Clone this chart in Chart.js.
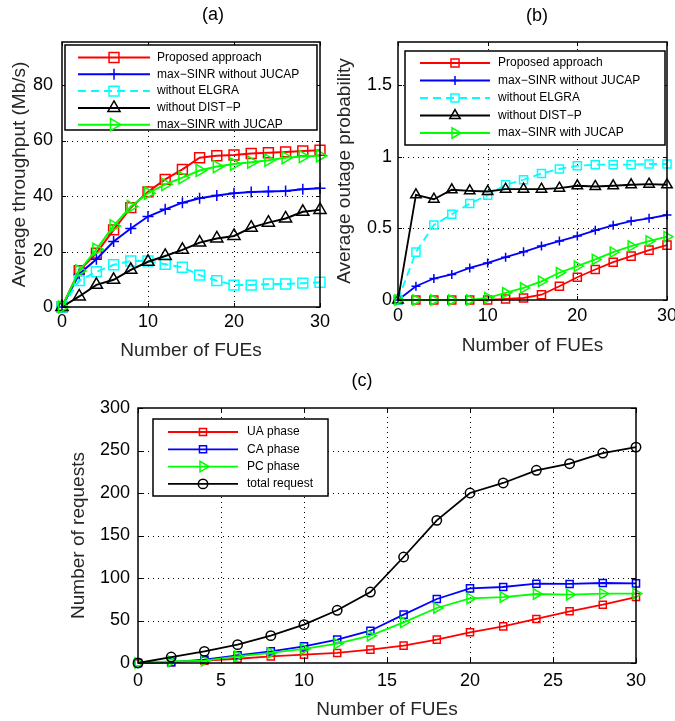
<!DOCTYPE html>
<html>
<head>
<meta charset="utf-8">
<script src="https://cdn.jsdelivr.net/npm/chart.js@4.4.0/dist/chart.umd.min.js"></script>
<style>
	body { margin: 0; background: #fff; }
	#wrap { position: relative; width: 675px; height: 721px; overflow: hidden; }
	#wrap canvas { position: absolute; }
</style>
</head>
<body>
<div id="wrap">
	<canvas id="chartA" width="330" height="365" style="left:0px;top:0px"></canvas>
	<canvas id="chartB" width="345" height="365" style="left:330px;top:0px"></canvas>
	<canvas id="chartC" width="675" height="361" style="left:0px;top:360px"></canvas>
</div>
<script>
// x values: number of FUEs
var fues = [0, 2, 4, 6, 8, 10, 12, 14, 16, 18, 20, 22, 24, 26, 28, 30];

// (a) average throughput (Mb/s)
var thrProposed  = [0, 13.1, 19.4, 27.8, 35.8, 41.5, 46.0, 49.6, 53.8, 54.5, 54.8, 55.3, 55.6, 55.9, 56.2, 56.5];
var thrMaxNoJ    = [0, 11.9, 17.2, 23.6, 28.3, 32.6, 35.2, 37.6, 39.2, 40.2, 41.0, 41.4, 41.6, 41.8, 42.4, 42.8];
var thrNoElgra   = [0, 9.5, 12.7, 15.2, 16.6, 16.6, 15.4, 14.3, 11.5, 9.5, 7.9, 7.9, 8.3, 8.3, 8.6, 8.9];
var thrNoDist    = [0, 3.8, 8.0, 9.8, 13.4, 16.3, 18.4, 20.6, 23.2, 24.7, 25.6, 28.6, 30.4, 31.9, 34.3, 35.0];
var thrMaxJ      = [0, 13.0, 20.8, 29.2, 36.2, 41.0, 44.2, 46.6, 49.2, 50.6, 51.5, 52.2, 52.9, 53.8, 54.2, 54.5];

// (b) average outage probability
var outProposed  = [0, 0, 0, 0, 0, 0, 0.007, 0.014, 0.037, 0.096, 0.159, 0.213, 0.264, 0.306, 0.348, 0.383];
var outMaxNoJ    = [0, 0.096, 0.15, 0.178, 0.224, 0.259, 0.299, 0.336, 0.376, 0.411, 0.446, 0.486, 0.521, 0.551, 0.57, 0.593];
var outNoElgra   = [0, 0.334, 0.523, 0.598, 0.673, 0.731, 0.804, 0.839, 0.883, 0.914, 0.937, 0.944, 0.944, 0.944, 0.949, 0.949];
var outNoDist    = [0, 0.734, 0.703, 0.769, 0.762, 0.757, 0.773, 0.773, 0.773, 0.78, 0.797, 0.792, 0.797, 0.804, 0.808, 0.804];
var outMaxJ      = [0, 0, 0, 0, 0, 0.015, 0.05, 0.084, 0.13, 0.19, 0.236, 0.283, 0.334, 0.376, 0.411, 0.442];

// (c) number of requests
var reqUA    = [0, 1, 2.7, 5, 7.8, 9.8, 11.8, 15.7, 20.4, 27.5, 36.1, 43.1, 51.8, 60.8, 68.6, 77.6];
var reqCA    = [0, 1, 3.9, 9, 13.7, 19.6, 27.5, 38, 56.9, 75.3, 87.8, 89.4, 93.3, 93, 94.1, 93.7];
var reqPC    = [0, 2, 2.7, 7.8, 11.8, 16.5, 22.7, 32.2, 47.8, 64.7, 76, 77.6, 81.2, 80.4, 81.6, 81.6];
var reqTotal = [0, 7, 13.7, 21.6, 32.2, 45.1, 62, 83.5, 124.7, 167.8, 200, 211.8, 226.7, 234.5, 247, 254];

var FONT = "'Liberation Sans', Arial, Helvetica, sans-serif";

function series(label, values, color, style, r, lw, extra){
	var pts = [];
	for (var i = 0; i < fues.length; i++) pts.push({x: fues[i], y: values[i]});
	var ds = {
		label: label, data: pts,
		borderColor: color, borderWidth: lw,
		pointStyle: style, pointRadius: r, pointHoverRadius: r,
		pointBorderColor: color, pointBackgroundColor: 'rgba(0,0,0,0)',
		pointBorderWidth: 1.5, pointRotation: 0,
		tension: 0, fill: false, clip: false
	};
	for (var k in extra) ds[k] = extra[k];
	return ds;
}

// later datasets drawn on top, like matlab
function stackOrder(list){
	list.forEach(function(d, i){ d.order = list.length - i; });
	return list;
}

function drawMarker(ctx, style, r, rot, x, y){
	ctx.beginPath();
	if (style === 'rect') {
		var s = r * Math.SQRT1_2;
		ctx.rect(x - s, y - s, 2 * s, 2 * s);
	} else if (style === 'cross') {
		ctx.moveTo(x - r, y); ctx.lineTo(x + r, y);
		ctx.moveTo(x, y - r); ctx.lineTo(x, y + r);
	} else if (style === 'circle') {
		ctx.arc(x, y, r, 0, Math.PI * 2);
	} else if (style === 'triangle') {
		var a = (rot || 0) * Math.PI / 180;
		for (var k = 0; k < 3; k++) {
			var px = x + Math.sin(a) * r, py = y - Math.cos(a) * r;
			if (k === 0) ctx.moveTo(px, py); else ctx.lineTo(px, py);
			a += 2 * Math.PI / 3;
		}
		ctx.closePath();
	}
	ctx.stroke();
}

// dotted grid, box, inward ticks, legend and panel label
var framePlugin = {
	id: 'frame',
	beforeDatasetsDraw: function(chart){
		var ctx = chart.ctx, a = chart.chartArea;
		var xs = chart.scales.x, ys = chart.scales.y;
		ctx.save();
		ctx.strokeStyle = '#000';
		ctx.lineWidth = 1;
		ctx.setLineDash([1, 4]);
		ctx.beginPath();
		xs.ticks.forEach(function(t){
			var p = Math.round(xs.getPixelForValue(t.value)) + 0.5;
			if (p < a.left + 2 || p > a.right - 2) return;
			ctx.moveTo(p, a.bottom); ctx.lineTo(p, a.top);
		});
		ys.ticks.forEach(function(t){
			var p = Math.round(ys.getPixelForValue(t.value)) + 0.5;
			if (p < a.top + 2 || p > a.bottom - 2) return;
			ctx.moveTo(a.left, p); ctx.lineTo(a.right, p);
		});
		ctx.stroke();
		ctx.restore();
	},
	afterDraw: function(chart, args, opts){
		var ctx = chart.ctx, a = chart.chartArea;
		var xs = chart.scales.x, ys = chart.scales.y;
		var tl = opts.tick;
		ctx.save();
		ctx.strokeStyle = '#000';
		ctx.lineWidth = 1;
		ctx.beginPath();
		xs.ticks.forEach(function(t){
			var p = Math.round(xs.getPixelForValue(t.value)) + 0.5;
			ctx.moveTo(p, a.bottom); ctx.lineTo(p, a.bottom - tl);
			ctx.moveTo(p, a.top); ctx.lineTo(p, a.top + tl);
		});
		ys.ticks.forEach(function(t){
			var p = Math.round(ys.getPixelForValue(t.value)) + 0.5;
			ctx.moveTo(a.left, p); ctx.lineTo(a.left + tl, p);
			ctx.moveTo(a.right, p); ctx.lineTo(a.right - tl, p);
		});
		ctx.stroke();
		ctx.lineWidth = 1.5;
		ctx.strokeRect(a.left, a.top, a.right - a.left, a.bottom - a.top);

		var lg = opts.legend;
		ctx.fillStyle = '#fff';
		ctx.fillRect(lg.x, lg.y, lg.w, lg.h);
		ctx.lineWidth = 1.5;
		ctx.strokeStyle = '#000';
		ctx.strokeRect(lg.x, lg.y, lg.w, lg.h);
		ctx.font = '12px ' + FONT;
		ctx.textBaseline = 'middle';
		ctx.textAlign = 'left';
		chart.data.datasets.forEach(function(ds, i){
			var y = lg.y + lg.first + i * lg.step;
			ctx.strokeStyle = ds.borderColor;
			ctx.lineWidth = ds.borderWidth;
			ctx.setLineDash(ds.borderDash || []);
			ctx.beginPath();
			ctx.moveTo(lg.l0, y); ctx.lineTo(lg.l1, y);
			ctx.stroke();
			ctx.setLineDash([]);
			ctx.lineWidth = ds.pointBorderWidth;
			drawMarker(ctx, ds.pointStyle, ds.pointRadius, ds.pointRotation, (lg.l0 + lg.l1) / 2, y);
			ctx.fillStyle = '#000';
			ctx.fillText(ds.label, lg.tx, y);
		});

		ctx.font = '18px ' + FONT;
		ctx.textAlign = 'center';
		ctx.fillStyle = '#000';
		ctx.fillText(opts.label, opts.labelX, opts.labelY);
		ctx.restore();
	}
};

function xAxis(step, height, tickPad, titlePad){
	return {
		type: 'linear', min: 0, max: 30,
		ticks: { stepSize: step, padding: tickPad, color: '#000', maxRotation: 0, autoSkip: false,
			font: { family: FONT, size: 18 } },
		grid: { display: false, drawTicks: false },
		border: { display: false },
		title: { display: true, text: 'Number of FUEs', color: '#262626',
			font: { family: FONT, size: 19 }, padding: { top: 0, bottom: titlePad } },
		afterFit: function(s){ s.height = height; s.paddingLeft = 0; s.paddingRight = 0; }
	};
}

function yAxis(max, step, width, tickPad, titlePad, title){
	return {
		type: 'linear', min: 0, max: max,
		ticks: { stepSize: step, padding: tickPad, color: '#000',
			font: { family: FONT, size: 18 },
			callback: function(v){ return String(Math.round(v * 100) / 100); } },
		afterBuildTicks: function(s){
			s.ticks = s.ticks.filter(function(t){
				var q = t.value / step;
				return Math.abs(q - Math.round(q)) < 1e-6;
			});
		},
		grid: { display: false, drawTicks: false },
		border: { display: false },
		title: { display: true, text: title, color: '#262626',
			font: { family: FONT, size: 19 }, padding: { top: titlePad, bottom: 0 } },
		afterFit: function(s){ s.width = width; s.paddingTop = 0; s.paddingBottom = 0; }
	};
}

function baseOptions(pad, scales, frame){
	return {
		responsive: false, animation: false, events: [],
		layout: { padding: pad },
		plugins: { legend: { display: false }, tooltip: { enabled: false }, title: { display: false }, frame: frame },
		scales: scales
	};
}

// (a)
new Chart(document.getElementById('chartA'), {
	type: 'line',
	data: { datasets: stackOrder([
		series('Proposed approach', thrProposed, '#ff0000', 'rect', 7, 2),
		series('max\u2212SINR without JUCAP', thrMaxNoJ, '#0000ff', 'cross', 5.5, 2),
		series('without ELGRA', thrNoElgra, '#00ffff', 'rect', 7, 2, { borderDash: [8, 5] }),
		series('without DIST\u2212P', thrNoDist, '#000000', 'triangle', 7, 2),
		series('max\u2212SINR with JUCAP', thrMaxJ, '#00ff00', 'triangle', 7, 2, { pointRotation: 90 })
	]) },
	options: baseOptions({ left: 0, top: 42, right: 10, bottom: 0 }, {
		x: xAxis(10, 58, 4, 2.6),
		y: yAxis(95.5, 20, 62, 9, 8.6, 'Average throughput (Mb/s)')
	}, {
		tick: 4, label: '(a)', labelX: 213, labelY: 15,
		legend: { x: 65, y: 45, w: 252, h: 85, first: 12.5, step: 16.8, l0: 78, l1: 150, tx: 157 }
	}),
	plugins: [framePlugin]
});

// (b)
new Chart(document.getElementById('chartB'), {
	type: 'line',
	data: { datasets: stackOrder([
		series('Proposed approach', outProposed, '#ff0000', 'rect', 5.7, 1.8),
		series('max\u2212SINR without JUCAP', outMaxNoJ, '#0000ff', 'cross', 4.5, 1.8),
		series('without ELGRA', outNoElgra, '#00ffff', 'rect', 5.7, 1.8, { borderDash: [8, 5] }),
		series('without DIST\u2212P', outNoDist, '#000000', 'triangle', 6, 1.8),
		series('max\u2212SINR with JUCAP', outMaxJ, '#00ff00', 'triangle', 6, 1.8, { pointRotation: 90 })
	]) },
	options: baseOptions({ left: 0, top: 42, right: 8, bottom: 0 }, {
		x: xAxis(10, 65, 5.2, 7.6),
		y: yAxis(1.8, 0.5, 68, 6, 3.6, 'Average outage probability')
	}, {
		tick: 4, label: '(b)', labelX: 207, labelY: 16,
		legend: { x: 75, y: 51, w: 260, h: 94, first: 12, step: 17.5, l0: 90, l1: 160, tx: 168 }
	}),
	plugins: [framePlugin]
});

// (c)
new Chart(document.getElementById('chartC'), {
	type: 'line',
	data: { datasets: stackOrder([
		series('UA phase', reqUA, '#ff0000', 'rect', 5, 1.8),
		series('CA phase', reqCA, '#0000ff', 'rect', 5, 1.8),
		series('PC phase', reqPC, '#00ff00', 'triangle', 6, 1.8, { pointRotation: 90 }),
		series('total request', reqTotal, '#000000', 'circle', 4.7, 1.8)
	]) },
	options: baseOptions({ left: 0, top: 48, right: 39, bottom: 0 }, {
		x: xAxis(5, 58, 7.2, 0.1),
		y: yAxis(300, 50, 138, 8, 67.6, 'Number of requests')
	}, {
		tick: 5, label: '(c)', labelX: 362, labelY: 21,
		legend: { x: 153, y: 59, w: 175, h: 77, first: 13, step: 17.3, l0: 168, l1: 238, tx: 247 }
	}),
	plugins: [framePlugin]
});
</script>
</body>
</html>
